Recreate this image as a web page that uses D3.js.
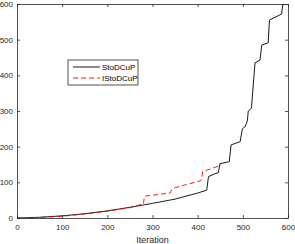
<!DOCTYPE html>
<html>
<head>
<meta charset="utf-8">
<script src="https://cdn.jsdelivr.net/npm/d3@7"></script>
<style>
  body { margin: 0; background: #fff; }
  text { font-family: "Liberation Sans", Arial, sans-serif; }
</style>
</head>
<body>
<div id="chart"></div>
<script>
// iterations and values
let stoIter = [0, 50, 100, 150, 200, 250, 300, 350, 400, 420, 424, 438, 446, 449, 470, 474, 494, 499, 505, 510, 512, 519, 527, 538, 542, 556, 559, 586, 588, 592];
let stoVal = [0, 2, 6, 12, 20, 30, 41, 53, 70, 78, 116, 124, 127, 152, 158, 205, 214, 250, 256, 272, 300, 308, 435, 443, 485, 491, 555, 572, 597, 598];

let istoIter = [0, 50, 100, 150, 200, 250, 280, 282, 339, 343, 350, 405, 409, 411, 452];
let istoVal = [0, 1.5, 5, 11, 19, 29, 40, 61, 70, 81, 85, 104, 108, 130, 148];

let seriesNames = ['StoDCuP', 'IStoDCuP'];
let xTicks = [0, 100, 200, 300, 400, 500, 600];
let yTicks = [0, 100, 200, 300, 400, 500, 600];

let totalWidth = 295;
let totalHeight = 244;
let margins = { top: 4, right: 7, bottom: 26, left: 17 };
let innerWidth = totalWidth - margins.left - margins.right;
let innerHeight = totalHeight - margins.top - margins.bottom;

let axisColor = '#262626';

let svg = d3.select('#chart')
    .append('svg')
    .attr('width', totalWidth)
    .attr('height', totalHeight);

let g = svg.append('g')
    .attr('transform', `translate(${margins.left}, ${margins.top})`);

let xScale = d3.scaleLinear().domain([0, 600]).range([0, innerWidth]);
let yScale = d3.scaleLinear().domain([0, 600]).range([innerHeight, 0]);

//lines first, axes drawn on top
let line = d3.line()
    .x(d => xScale(d[0]))
    .y(d => yScale(d[1]));

let stoData = stoIter.map((it, i) => [it, stoVal[i]]);
let istoData = istoIter.map((it, i) => [it, istoVal[i]]);

g.append('path')
    .datum(stoData)
    .attr('d', line)
    .attr('fill', 'none')
    .attr('stroke', '#000')
    .attr('stroke-width', 0.9);

g.append('path')
    .datum(istoData)
    .attr('d', line)
    .attr('fill', 'none')
    .attr('stroke', '#ff0000')
    .attr('stroke-width', 0.9)
    .attr('stroke-dasharray', '5,3');

//axes with inward ticks, box on all sides
function styleAxis(sel) {
    sel.selectAll('path').attr('stroke', axisColor).attr('stroke-width', 0.8);
    sel.selectAll('line').attr('stroke', axisColor).attr('stroke-width', 0.8);
    sel.selectAll('text')
        .attr('fill', axisColor)
        .style('font-size', '8px');
}

let xAxis = g.append('g')
    .attr('transform', `translate(0, ${innerHeight})`)
    .call(d3.axisBottom(xScale).tickValues(xTicks).tickSizeInner(-3).tickSizeOuter(0).tickPadding(6));
styleAxis(xAxis);

let xTop = g.append('g')
    .call(d3.axisTop(xScale).tickValues(xTicks).tickSizeInner(-3).tickSizeOuter(0).tickFormat(''));
styleAxis(xTop);

let yAxis = g.append('g')
    .call(d3.axisLeft(yScale).tickValues(yTicks).tickSizeInner(-3).tickSizeOuter(0).tickPadding(4));
styleAxis(yAxis);

let yRight = g.append('g')
    .attr('transform', `translate(${innerWidth}, 0)`)
    .call(d3.axisRight(yScale).tickValues(yTicks).tickSizeInner(-3).tickSizeOuter(0).tickFormat(''));
styleAxis(yRight);

svg.append('text')
    .attr('x', margins.left + innerWidth / 2)
    .attr('y', totalHeight - 1)
    .attr('text-anchor', 'middle')
    .attr('fill', axisColor)
    .style('font-size', '9px')
    .text('Iteration');

//legend
let legend = svg.append('g').attr('transform', 'translate(68, 60)');
legend.append('rect')
    .attr('width', 70)
    .attr('height', 25)
    .attr('fill', '#fff')
    .attr('stroke', axisColor)
    .attr('stroke-width', 0.8);

let legendColors = ['#000', '#ff0000'];
let legendDash = [null, '5,3'];
seriesNames.forEach((name, i) => {
    let y = 7 + i * 11;
    legend.append('line')
        .attr('x1', 5).attr('x2', 32)
        .attr('y1', y).attr('y2', y)
        .attr('stroke', legendColors[i])
        .attr('stroke-width', 0.9)
        .attr('stroke-dasharray', legendDash[i]);
    legend.append('text')
        .attr('x', 34)
        .attr('y', y + 3)
        .attr('fill', '#000')
        .style('font-size', '8px')
        .text(name);
});
</script>
</body>
</html>
